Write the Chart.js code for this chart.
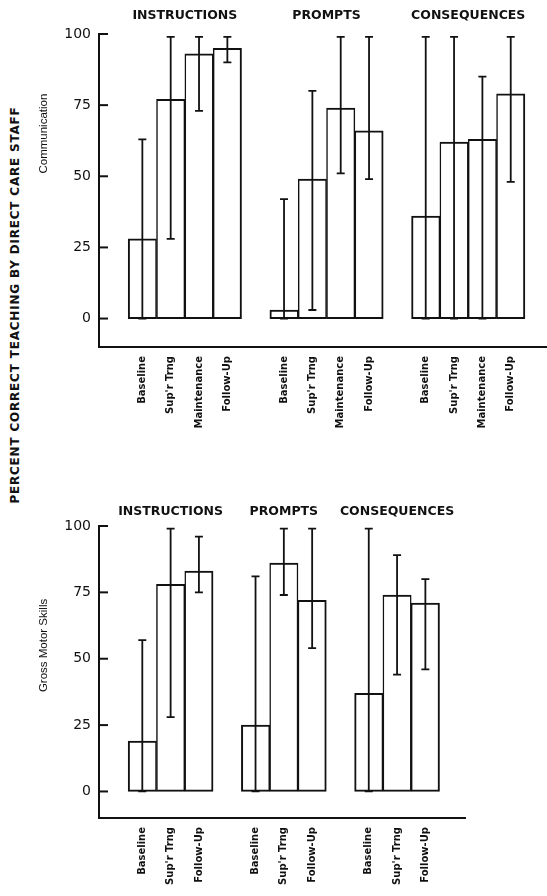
<!DOCTYPE html>
<html>
<head>
<meta charset="utf-8">
<script src="https://cdn.jsdelivr.net/npm/chart.js@4.4.0/dist/chart.umd.min.js"></script>
<style>
  html, body { margin: 0; padding: 0; background: #fff; }
  #page { position: relative; width: 547px; height: 896px; overflow: hidden; }
  .panel { position: absolute; left: 0; width: 547px; }
  #topPanel { top: 0; height: 445px; }
  #bottomPanel { top: 445px; height: 451px; }
  #bigLabel {
    position: absolute; left: 15px; top: 305px;
    transform: translate(-50%, -50%) rotate(-90deg);
    white-space: nowrap; font: bold 12px "DejaVu Sans"; letter-spacing: 0.8px; color: #111;
  }
</style>
</head>
<body>
<div id="page">
  <div id="bigLabel">PERCENT CORRECT TEACHING BY DIRECT CARE STAFF</div>
  <div class="panel" id="topPanel"><canvas id="commChart"></canvas></div>
  <div class="panel" id="bottomPanel"><canvas id="motorChart"></canvas></div>
</div>
<script>
const groups = ['INSTRUCTIONS', 'PROMPTS', 'CONSEQUENCES'];
const commPhases = ['Baseline', "Sup'r Trng", 'Maintenance', 'Follow-Up'];
const motorPhases = ['Baseline', "Sup'r Trng", 'Follow-Up'];
const yTicks = [0, 25, 50, 75, 100];

// Communication: bar height, lower and upper end of the range
const commValues = [28, 77, 93, 95, 3, 49, 74, 66, 36, 62, 63, 79];
const commLow = [0, 28, 73, 90, 0, 3, 51, 49, 0, 0, 0, 48];
const commHigh = [63, 99, 99, 99, 42, 80, 99, 99, 99, 99, 85, 99];

// Gross motor skills
const motorValues = [19, 78, 83, 25, 86, 72, 37, 74, 71];
const motorLow = [0, 28, 75, 0, 74, 54, 0, 44, 46];
const motorHigh = [57, 99, 96, 81, 99, 99, 99, 89, 80];

const ink = '#111';

// one empty slot between groups
function positions(nPhases) {
  const pos = [];
  groups.forEach((g, gi) => {
    for (let p = 0; p < nPhases; p++) pos.push(1 + gi * (nPhases + 1) + p);
  });
  return pos;
}

function makeDecor(cfg) {
  return {
    id: 'decor',
    afterDatasetsDraw(chart) {
      const ctx = chart.ctx, xs = chart.scales.x, ys = chart.scales.y, area = chart.chartArea;
      ctx.save();
      ctx.strokeStyle = ink;
      ctx.fillStyle = ink;
      ctx.lineWidth = 1.8;
      // range bars
      cfg.low.forEach((lo, i) => {
        const px = xs.getPixelForValue(cfg.pos[i]);
        const y1 = ys.getPixelForValue(lo);
        const y2 = ys.getPixelForValue(cfg.high[i]);
        ctx.beginPath();
        ctx.moveTo(px, y1); ctx.lineTo(px, y2);
        ctx.moveTo(px - 4, y1); ctx.lineTo(px + 4, y1);
        ctx.moveTo(px - 4, y2); ctx.lineTo(px + 4, y2);
        ctx.stroke();
      });
      // tick marks point into the plot
      ctx.lineWidth = 2;
      ys.ticks.forEach(t => {
        const py = ys.getPixelForValue(t.value);
        ctx.beginPath();
        ctx.moveTo(area.left, py); ctx.lineTo(area.left + 9, py);
        ctx.stroke();
      });
      // group headings
      ctx.font = 'bold 12.5px "DejaVu Sans"';
      ctx.textAlign = 'center';
      ctx.textBaseline = 'middle';
      groups.forEach((g, gi) => {
        const first = cfg.pos[gi * cfg.n], last = cfg.pos[gi * cfg.n + cfg.n - 1];
        ctx.fillText(g, xs.getPixelForValue((first + last) / 2), area.top - cfg.headGap);
      });
      // panel title
      ctx.font = '11.5px "Liberation Sans"';
      ctx.translate(cfg.titleX, ys.getPixelForValue(cfg.titleAt));
      ctx.rotate(-Math.PI / 2);
      ctx.fillText(cfg.title, 0, 0);
      ctx.restore();
    }
  };
}

function makeChart(id, phases, values, low, high, opt) {
  const pos = positions(phases.length);
  const labels = [];
  groups.forEach(() => phases.forEach(p => labels.push(p)));
  const n = phases.length;
  return new Chart(document.getElementById(id), {
    type: 'bar',
    data: {
      datasets: [{
        data: values.map((v, i) => ({ x: pos[i], y: v })),
        backgroundColor: '#fff',
        borderColor: ink,
        borderSkipped: false,
        borderWidth: c => {
          const k = c.dataIndex % n;
          return { top: 2, bottom: 2, left: k === 0 ? 2 : 1.5, right: k === n - 1 ? 2 : 1.5 };
        },
        barPercentage: 1,
        categoryPercentage: 1
      }]
    },
    options: {
      responsive: true,
      maintainAspectRatio: false,
      animation: false,
      layout: { padding: { top: opt.top, right: opt.right, left: 0, bottom: 0 } },
      plugins: { legend: { display: false }, tooltip: { enabled: false } },
      scales: {
        x: {
          type: 'linear',
          min: -0.53,
          max: opt.xMax,
          offset: false,
          afterBuildTicks: s => { s.ticks = pos.map(v => ({ value: v })); },
          afterFit: s => { s.height = opt.xHeight; },
          grid: { display: false, drawTicks: false },
          border: { display: true, color: ink, width: 2 },
          ticks: {
            autoSkip: false, minRotation: 90, maxRotation: 90, padding: 9, color: ink,
            font: { family: 'DejaVu Sans', size: 10, weight: 'bold' },
            callback: (v, i) => labels[i]
          }
        },
        y: {
          min: -10,
          max: 100,
          afterBuildTicks: s => { s.ticks = yTicks.map(v => ({ value: v })); },
          afterFit: s => { s.width = 99; },
          grid: { display: false, drawTicks: false },
          border: { display: true, color: ink, width: 2 },
          ticks: { padding: 8, color: ink, font: { family: 'DejaVu Sans', size: 14 } }
        }
      }
    },
    plugins: [makeDecor({ pos, low, high, n, headGap: opt.headGap, title: opt.title, titleX: 44, titleAt: opt.titleAt })]
  });
}

makeChart('commChart', commPhases, commValues, commLow, commHigh,
  { top: 34, right: 0, xMax: 15.28, xHeight: 98, headGap: 18, title: 'Communication', titleAt: 65 });
makeChart('motorChart', motorPhases, motorValues, motorLow, motorHigh,
  { top: 81, right: 82, xMax: 12.4, xHeight: 78, headGap: 14, title: 'Gross Motor Skills', titleAt: 55 });
</script>
</body>
</html>
